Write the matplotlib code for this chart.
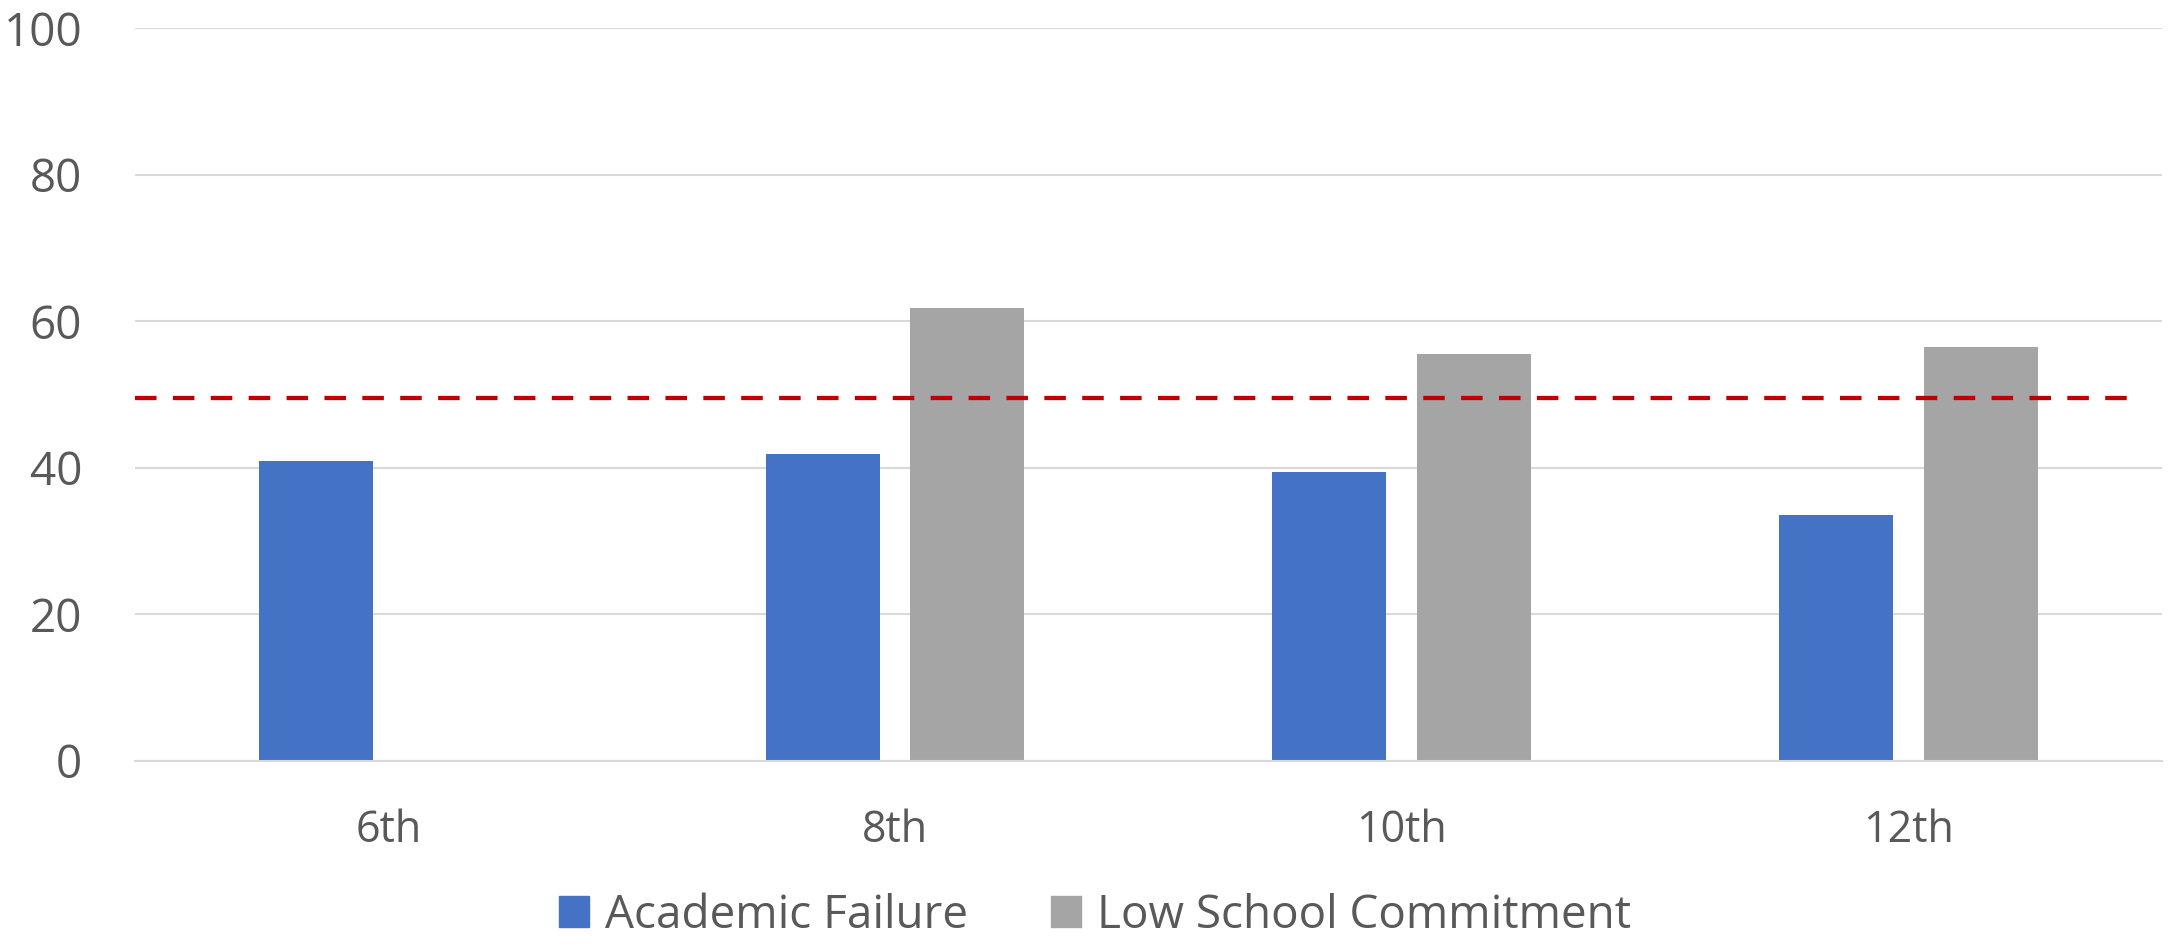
import numpy as np
import matplotlib
matplotlib.use("Agg")
import matplotlib.pyplot as plt
from matplotlib.patches import Patch

# data
grades = ["6th", "8th", "10th", "12th"]
academic_failure = [40.9, 41.9, 39.5, 33.6]
low_commitment = [np.nan, 61.8, 55.5, 56.5]
threshold = 49.5
yticks = [0, 20, 40, 60, 80, 100]

blue = "#4472C4"
grey = "#A5A5A5"
red = "#C00000"
text_col = "#595959"

plt.rcParams["font.family"] = ["Open Sans", "DejaVu Sans"]

fig = plt.figure(figsize=(21.77, 9.44), dpi=100)
ax = fig.add_axes([0.062, 0.194, 0.931, 0.776])

x = np.arange(len(grades))
w = 0.225
off = 0.143
ax.bar(x - off, academic_failure, w, color=blue, zorder=2)
ax.bar(x + off, low_commitment, w, color=grey, zorder=2)

# threshold line
ax.plot([-0.5, 3.44], [threshold, threshold], color=red, lw=3.1,
        dashes=(5, 3.8), zorder=3)

ax.set_xlim(-0.5, 3.5)
ax.set_ylim(0, 100)
ax.set_yticks(yticks)
ax.set_xticks(x)
ax.set_xticklabels(grades)
ax.grid(axis="y", color="#D9D9D9", lw=1.5, zorder=0)
ax.set_axisbelow(True)
for s in ["top", "right", "left"]:
    ax.spines[s].set_visible(False)
ax.spines["bottom"].set_color("#D9D9D9")
ax.spines["bottom"].set_linewidth(1.5)
ax.tick_params(axis="both", length=0, labelcolor=text_col)
ax.tick_params(axis="x", labelsize=31, pad=34)
ax.tick_params(axis="y", labelsize=33, pad=38)

handles = [Patch(color=blue, label="Academic Failure"),
           Patch(color=grey, label="Low School Commitment")]
fig.legend(handles=handles, loc="center", bbox_to_anchor=(0.503, 0.03),
           ncol=2, frameon=False, fontsize=33, labelcolor=text_col,
           handlelength=0.65, handleheight=0.65, handletextpad=0.35,
           columnspacing=1.8)

fig.savefig("out.png", dpi=100)
